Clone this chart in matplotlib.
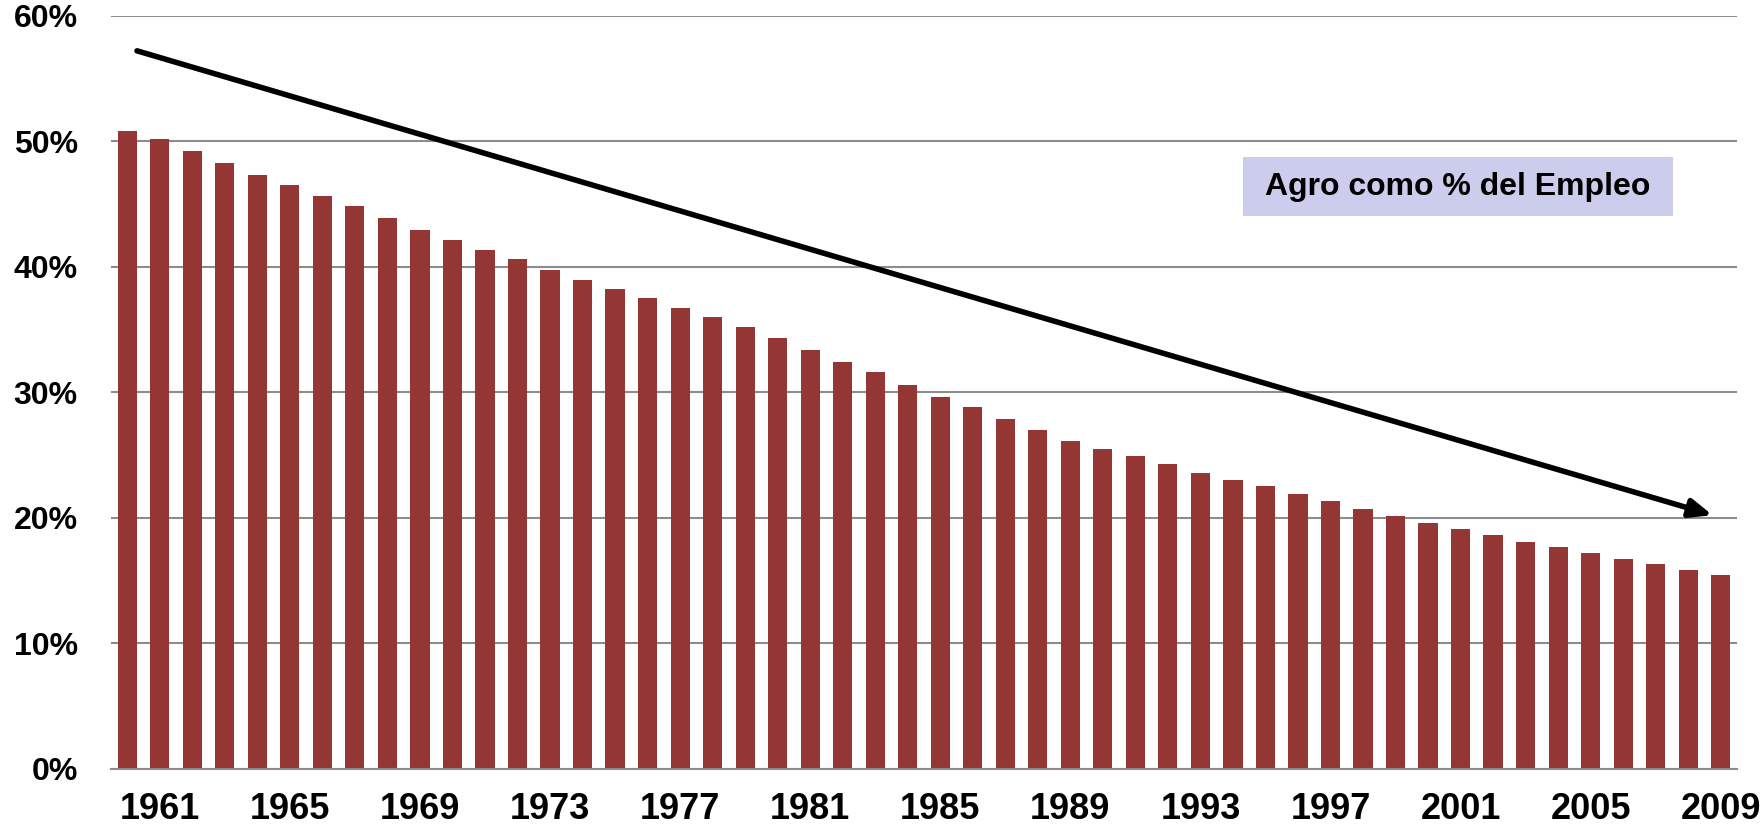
import matplotlib
matplotlib.use('Agg')
import matplotlib.pyplot as plt
from matplotlib.patches import Rectangle
import numpy as np

plt.rcParams['font.family'] = ['Liberation Sans', 'DejaVu Sans']

years = np.arange(1960, 2010)
agro_share = [50.8, 50.2, 49.2, 48.3, 47.3, 46.5, 45.6, 44.8, 43.9, 42.9,
              42.1, 41.3, 40.6, 39.7, 38.9, 38.2, 37.5, 36.7, 36.0, 35.2,
              34.3, 33.4, 32.4, 31.6, 30.6, 29.6, 28.8, 27.9, 27.0, 26.1,
              25.5, 24.9, 24.3, 23.6, 23.0, 22.5, 21.9, 21.3, 20.7, 20.1,
              19.6, 19.1, 18.6, 18.1, 17.7, 17.2, 16.7, 16.3, 15.8, 15.4]
label_years = list(range(1961, 2010, 4))
y_ticks = [0, 10, 20, 30, 40, 50, 60]
legend_text = 'Agro como % del Empleo'

fig = plt.figure(figsize=(17.62, 8.26), dpi=100)
ax = fig.add_axes([0.063, 0.0694, 0.9228, 0.9116])

ax.bar(years, np.array(agro_share) / 100, width=0.59, color='#943634', zorder=2)

ax.set_xlim(1959.5, 2009.5)
ax.set_ylim(0, 0.6)
ax.set_yticks([v / 100 for v in y_ticks])
ax.set_yticklabels(['{}%'.format(v) for v in y_ticks])
ax.set_xticks(label_years)
ax.set_xticklabels([str(y) for y in label_years])

ax.grid(axis='y', color='#8c8c8c', linewidth=1.5, zorder=1)
for side in ['left', 'right', 'top']:
    ax.spines[side].set_visible(False)
ax.spines['bottom'].set_color('#8c8c8c')
ax.spines['bottom'].set_linewidth(1.5)

ax.tick_params(axis='y', length=0, pad=24, labelsize=23)
ax.tick_params(axis='x', length=0, pad=17, labelsize=26)
for lab in ax.get_xticklabels() + ax.get_yticklabels():
    lab.set_fontweight('bold')

# downward trend arrow
ax.annotate('', xy=(2008.75, 0.202), xytext=(1960.3, 0.572),
            arrowprops=dict(arrowstyle='-|>,head_length=0.6,head_width=0.25',
                            mutation_scale=22, color='black', lw=4,
                            shrinkA=0, shrinkB=0),
            zorder=5, annotation_clip=False)

# label box
ax.add_patch(Rectangle((0.696, 0.734), 0.2646, 0.0783, transform=ax.transAxes,
                       facecolor='#ccccec', edgecolor='none', zorder=4))
ax.text(0.828, 0.773, legend_text, transform=ax.transAxes, ha='center',
        va='center', fontsize=23, fontweight='bold', zorder=5)

fig.savefig('out.png', dpi=100)
